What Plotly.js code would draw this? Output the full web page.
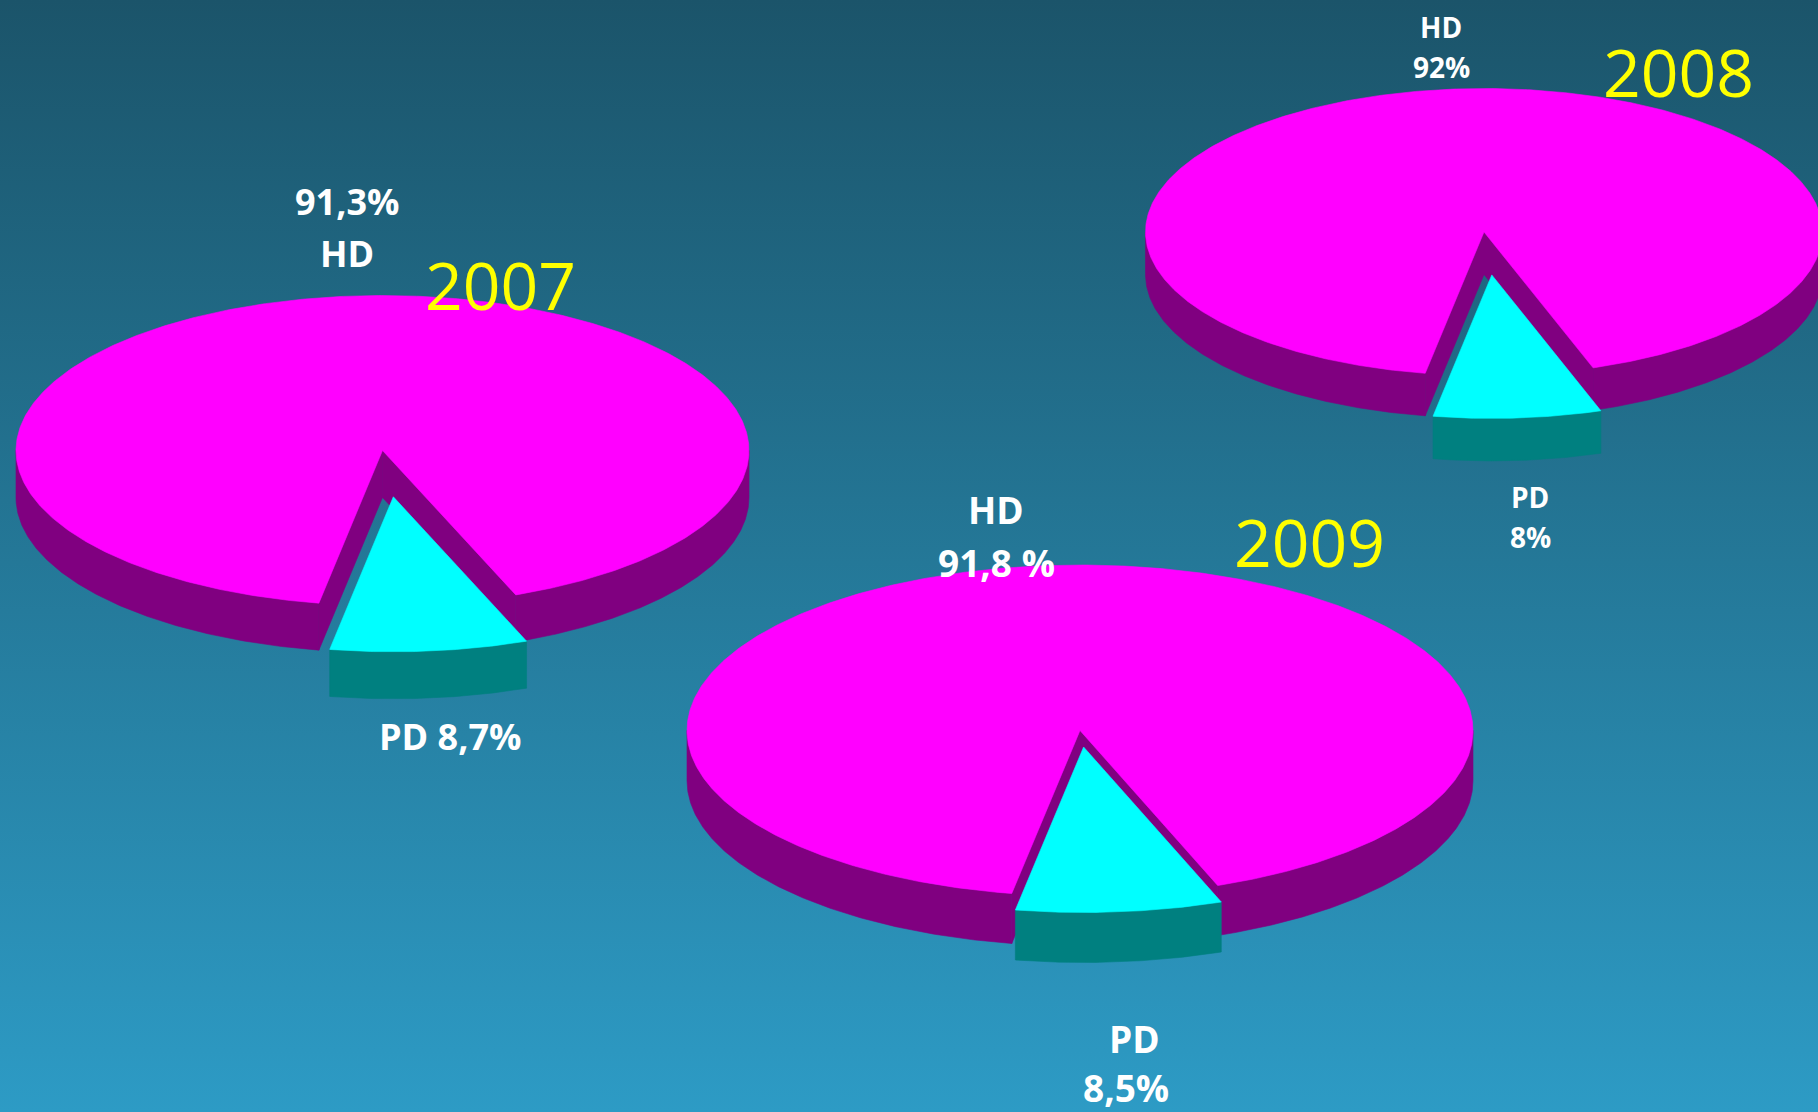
<!DOCTYPE html>
<html>
<head>
<meta charset="utf-8">
<script src="https://cdn.plot.ly/plotly-3.0.1.min.js"></script>
<style>
html, body { margin: 0; padding: 0; width: 1818px; height: 1112px; overflow: hidden; }
#chart { width: 1818px; height: 1112px; background: linear-gradient(to bottom, #1b546a 0%, #2d9bc5 100%); }
</style>
</head>
<body>
<div id="chart"></div>
<script>
// ---------- data ----------
const years = ['2007', '2008', '2009'];
const categories = ['HD', 'PD'];
const hdShare = [91.3, 92, 91.8];
const pdShare = [8.7, 8, 8.5];
const hdValueLabels = ['91,3%', '92%', '91,8 %'];
const pdValueLabels = ['8,7%', '8%', '8,5%'];

// ---------- geometry / style (pixels in the page frame) ----------
const pieGeom = [
  { cx: 382.5, cy: 450.5, rx: 366.5, ry: 155,   depth: 47,   explode: 0.3, start: -10 },
  { cx: 1484,  cy: 232,   rx: 338.5, ry: 143.5, depth: 42.5, explode: 0.3, start: -10 },
  { cx: 1080,  cy: 730.5, rx: 393,   ry: 165.5, depth: 50,   explode: 0.1, start: -10 }
];
const labelLayout = [
  { size: 36, hd: [['value', 346.5, 201.5], ['name', 346.5, 253.5]], pd: [['name value', 450, 736.5]], year: [500, 284] },
  { size: 28, hd: [['name', 1441.3, 26.7], ['value', 1441, 66.7]], pd: [['name', 1530, 497], ['value', 1530, 536.6]], year: [1678, 71] },
  { size: 37, hd: [['name', 996, 509.5], ['value', 996, 562]], pd: [['name', 1134, 1038], ['value', 1126, 1087]], year: [1309, 541] }
];
const colors = { hdTop: '#ff00ff', hdSide: '#800080', pdTop: '#00ffff', pdSide: '#008080', year: '#ffff00', label: '#ffffff' };
const fontFamily = '"Comic Sans MS", "Open Sans", "DejaVu Sans", sans-serif';

// ---------- helpers ----------
function pt(g, th, ox, oy, dz) {
  const r = th * Math.PI / 180;
  return [g.cx + ox + g.rx * Math.sin(r), g.cy + oy + g.ry * Math.cos(r) + dz];
}
function arc(g, a, b, ox, oy, dz) {
  const n = Math.max(2, Math.ceil(Math.abs(b - a) / 0.5));
  const out = [];
  for (let i = 0; i <= n; i++) out.push(pt(g, a + (b - a) * i / n, ox, oy, dz));
  return out;
}
function poly(points, color) {
  const xs = points.map(p => p[0]); xs.push(points[0][0]);
  const ys = points.map(p => p[1]); ys.push(points[0][1]);
  return { type: 'scatter', mode: 'lines', x: xs, y: ys, fill: 'toself', fillcolor: color,
           line: { color: color, width: 0.6 }, hoverinfo: 'skip', showlegend: false };
}
// front-facing parts of an angular range (front half: -90..90 mod 360)
function frontParts(a, b) {
  const parts = [];
  for (let k = -1; k <= 2; k++) {
    const lo = Math.max(a, -90 + 360 * k), hi = Math.min(b, 90 + 360 * k);
    if (hi > lo) parts.push([lo, hi]);
  }
  return parts;
}
function wall(g, a, b, ox, oy, color) {
  const top = arc(g, a, b, ox, oy, 0);
  const bot = arc(g, a, b, ox, oy, g.depth).reverse();
  return poly(top.concat(bot), color);
}

// ---------- build traces ----------
const traces = [];
const annotations = [];
const drawOrder = [1, 0, 2];

drawOrder.forEach(i => {
  const g = pieGeom[i];
  const total = hdShare[i] + pdShare[i];
  const pdSpan = 360 * pdShare[i] / total;
  const pdA = g.start, pdB = g.start + pdSpan;
  const hdA = pdB, hdB = g.start + 360;

  // HD walls
  frontParts(hdA, hdB).forEach(([lo, hi]) => traces.push(wall(g, lo, hi, 0, 0, colors.hdSide)));
  // HD radial cut faces
  [hdA, hdB].forEach(th => {
    const c = [g.cx, g.cy], p = pt(g, th, 0, 0, 0);
    traces.push(poly([c, p, [p[0], p[1] + g.depth], [c[0], c[1] + g.depth]], colors.hdSide));
  });
  // HD top
  traces.push(poly([[g.cx, g.cy]].concat(arc(g, hdA, hdB, 0, 0, 0)), colors.hdTop));

  // PD (exploded)
  const bis = (pdA + pdB) / 2 * Math.PI / 180;
  const ox = g.rx * Math.sin(bis) * g.explode, oy = g.ry * Math.cos(bis) * g.explode;
  frontParts(pdA, pdB).forEach(([lo, hi]) => traces.push(wall(g, lo, hi, ox, oy, colors.pdSide)));
  traces.push(poly([[g.cx + ox, g.cy + oy]].concat(arc(g, pdA, pdB, ox, oy, 0)), colors.pdTop));
});

function resolve(kind, name, value) {
  if (kind === 'name') return name;
  if (kind === 'value') return value;
  return name + ' ' + value;
}
years.forEach((yr, i) => {
  const L = labelLayout[i];
  L.hd.forEach(([kind, x, y]) => annotations.push({
    x, y, xref: 'x', yref: 'y', text: resolve(kind, categories[0], hdValueLabels[i]), showarrow: false,
    xanchor: 'center', yanchor: 'middle', font: { family: fontFamily, size: L.size, color: colors.label, weight: 700 }
  }));
  L.pd.forEach(([kind, x, y]) => annotations.push({
    x, y, xref: 'x', yref: 'y', text: resolve(kind, categories[1], pdValueLabels[i]), showarrow: false,
    xanchor: 'center', yanchor: 'middle', font: { family: fontFamily, size: L.size, color: colors.label, weight: 700 }
  }));
  annotations.push({
    x: L.year[0], y: L.year[1], xref: 'x', yref: 'y', text: yr, showarrow: false,
    xanchor: 'center', yanchor: 'middle', font: { family: fontFamily, size: 66, color: colors.year }
  });
});

const layout = {
  width: 1818, height: 1112,
  margin: { l: 0, r: 0, t: 0, b: 0, pad: 0 },
  paper_bgcolor: 'rgba(0,0,0,0)', plot_bgcolor: 'rgba(0,0,0,0)',
  showlegend: false,
  xaxis: { range: [0, 1818], visible: false, fixedrange: true },
  yaxis: { range: [1112, 0], visible: false, fixedrange: true },
  annotations: annotations
};
Plotly.newPlot('chart', traces, layout, { displayModeBar: false, staticPlot: true });
</script>
</body>
</html>
